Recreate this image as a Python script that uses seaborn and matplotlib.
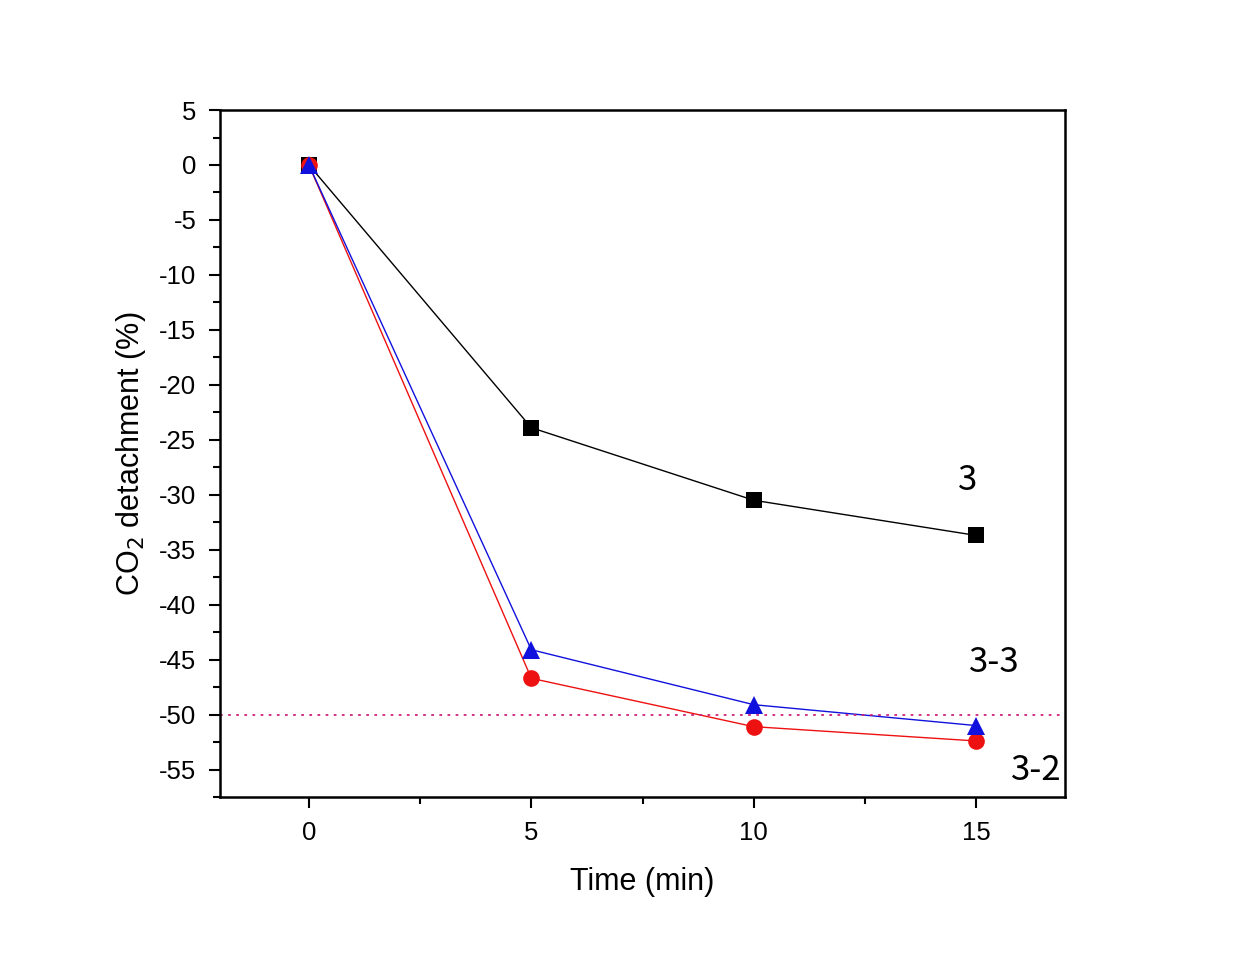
import matplotlib
matplotlib.use("Agg")
import matplotlib.pyplot as plt
import seaborn as sns
import pandas as pd
from matplotlib.ticker import MultipleLocator

sns.set_style("ticks")
plt.rcParams["font.family"] = ["Liberation Sans", "DejaVu Sans"]
plt.rcParams["axes.unicode_minus"] = False
plt.rcParams["text.color"] = "black"
plt.rcParams["axes.labelcolor"] = "black"
plt.rcParams["xtick.color"] = "black"
plt.rcParams["ytick.color"] = "black"
plt.rcParams["axes.edgecolor"] = "black"

# ---- data ----
time_min = [0, 5, 10, 15]
sample_3 = [0.0, -23.9, -30.5, -33.7]
sample_3_2 = [0.0, -46.7, -51.1, -52.4]
sample_3_3 = [0.0, -44.1, -49.1, -51.0]
threshold = -50

series = [
    ("3", sample_3, "black", "s", 11),
    ("3-2", sample_3_2, "#ee1111", "o", 12),
    ("3-3", sample_3_3, "#1111dd", "^", 13),
]

fig = plt.figure(figsize=(12.38, 9.56), dpi=100)
ax = fig.add_axes([0.1777, 0.1663, 0.6826, 0.7186])

for name, vals, color, marker, ms in series:
    df = pd.DataFrame({"time": time_min, "value": vals})
    sns.lineplot(data=df, x="time", y="value", ax=ax, color=color,
                 marker=marker, markersize=ms, markeredgewidth=0,
                 linewidth=1.0)

ax.axhline(threshold, color="#cc2277", linestyle=(0, (1.5, 3)), linewidth=1.3)

ax.set_xlim(-2, 17)
ax.set_ylim(-57.5, 5)
ax.xaxis.set_major_locator(MultipleLocator(5))
ax.xaxis.set_minor_locator(MultipleLocator(2.5))
ax.yaxis.set_major_locator(MultipleLocator(5))
ax.yaxis.set_minor_locator(MultipleLocator(2.5))
ax.tick_params(which="major", direction="out", length=8, width=1.5,
               labelsize=18.5, pad=9)
ax.tick_params(which="minor", direction="out", length=5, width=1.5)
for sp in ax.spines.values():
    sp.set_linewidth(1.8)

ax.set_xlabel("Time (min)", fontsize=22, labelpad=16)
ax.set_ylabel("CO$_2$ detachment (%)", fontsize=22, labelpad=8)

lab_font = ["Noto Sans CJK KR", "DejaVu Sans"]
ax.text(14.8, -28.7, "3", fontsize=25, family=lab_font, ha="center", va="center")
ax.text(15.4, -45.3, "3-3", fontsize=25, family=lab_font, ha="center", va="center")
ax.text(16.35, -55.1, "3-2", fontsize=25, family=lab_font, ha="center", va="center")

fig.savefig("out.png", dpi=100)
